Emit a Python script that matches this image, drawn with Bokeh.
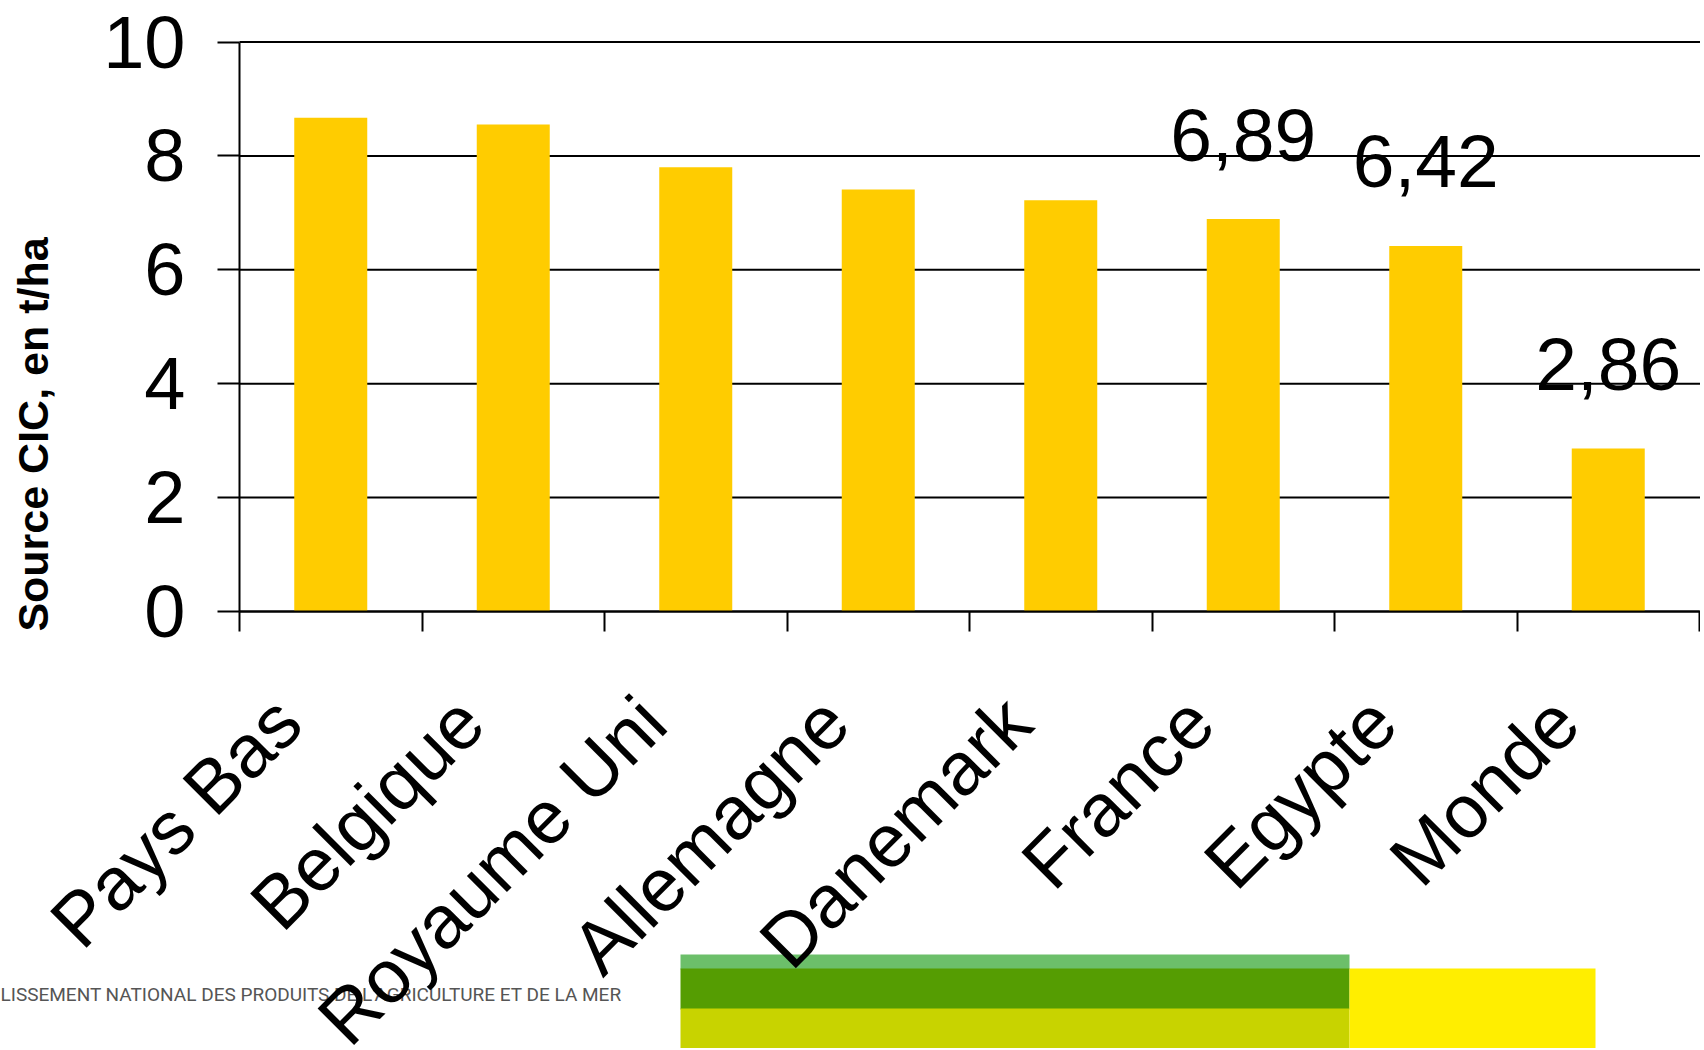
import math
from bokeh.plotting import figure
from bokeh.models import (Range1d, FixedTicker, LinearAxis, LabelSet, Label,
                          BoxAnnotation, ColumnDataSource, CustomJSTickFormatter)
from bokeh.core.properties import value
from bokeh.embed import file_html
from bokeh.resources import INLINE

# ---- data ----
categories = ["Pays Bas", "Belgique", "Royaume Uni", "Allemagne", "Danemark",
              "France", "Egypte", "Monde"]
yields = [8.67, 8.55, 7.80, 7.41, 7.22, 6.89, 6.42, 2.86]
shown_labels = ["", "", "", "", "", "6,89", "6,42", "2,86"]
y_ticks = [0, 2, 4, 6, 8, 10]
y_title = "Source CIC, en t/ha"
banner_text = "LISSEMENT NATIONAL DES PRODUITS DE L'AGRICULTURE ET DE LA MER"

FONT = "Liberation Sans"
n = len(categories)
centers = [i + 0.5 for i in range(n)]
bounds = [float(i) for i in range(n + 1)]
y_max = y_ticks[-1]

# ---- layout (canvas pixels) ----
W, H = 1700, 1048
X0_PX, X1_PX = 239, 1699      # where the category span starts / ends
Y0_PX, Y1_PX = 611, 41.5      # where value 0 / value y_max lie
ux = (X1_PX - X0_PX) / n
uy = (Y0_PX - Y1_PX) / y_max
x_range = Range1d(-X0_PX / ux, (W - X0_PX) / ux)
y_range = Range1d(-(H - Y0_PX) / uy, y_max + Y1_PX / uy)

p = figure(width=W, height=H, output_backend="svg", toolbar_location=None,
           x_range=x_range, y_range=y_range,
           x_axis_type=None, y_axis_type=None, min_border=0)
p.outline_line_color = None
p.background_fill_color = "white"
p.border_fill_color = "white"
p.xgrid.visible = False
p.ygrid.visible = False

# horizontal grid lines (from the tick list), behind the bars
p.segment(x0=[0] * len(y_ticks), x1=[x_range.end] * len(y_ticks),
          y0=y_ticks, y1=y_ticks, line_color="black", line_width=2,
          level="underlay")

# y axis
yaxis = LinearAxis(ticker=FixedTicker(ticks=y_ticks), fixed_location=0,
                   bounds=(0, y_max))
yaxis.axis_line_color = "black"
yaxis.axis_line_width = 2
yaxis.major_tick_line_color = "black"
yaxis.major_tick_line_width = 2
yaxis.major_tick_out = 22
yaxis.major_tick_in = 0
yaxis.minor_tick_line_color = None
yaxis.major_label_text_font = FONT
yaxis.major_label_text_font_size = "74px"
yaxis.major_label_text_color = "black"
yaxis.major_label_standoff = 32
p.add_layout(yaxis, "left")

# x axis: ticks at category boundaries, no tick labels
xaxis = LinearAxis(ticker=FixedTicker(ticks=bounds), fixed_location=0,
                   bounds=(0, n))
xaxis.axis_line_color = "black"
xaxis.axis_line_width = 2
xaxis.major_tick_line_color = "black"
xaxis.major_tick_line_width = 2
xaxis.major_tick_out = 20
xaxis.major_tick_in = 0
xaxis.minor_tick_line_color = None
xaxis.formatter = CustomJSTickFormatter(code="return ''")
xaxis.major_label_text_font_size = "1px"
xaxis.major_label_standoff = 0
p.add_layout(xaxis, "below")

src = ColumnDataSource(dict(x=centers, top=yields, cat=categories, lab=shown_labels,
                            zero=[0] * n))

p.vbar(x="x", top="top", width=0.4, source=src, fill_color="#FFCC00",
       line_color=None)

p.text(x="x", y="top", text="lab", source=src, y_offset=-84,
       text_align="center", text_baseline="alphabetic",
       text_font=value(FONT), text_font_size="75px", text_color="black")

cat_labels = LabelSet(x="x", y="zero", text="cat", source=src,
                      x_offset=-43, y_offset=-98, angle=math.pi / 4,
                      text_align="right", text_baseline="middle",
                      text_font=value(FONT), text_font_size="75px",
                      text_color="black")
p.add_layout(cat_labels)

# y title
p.add_layout(Label(x=32, y=H - 434, x_units="screen", y_units="screen",
                   text=y_title, angle=math.pi / 2, text_align="center",
                   text_baseline="middle", text_font=FONT,
                   text_font_size="43px", text_font_style="bold",
                   text_color="black"))

# decorative banner at the bottom (screen units: x from left, y from bottom)
for (l, r, t, b, c) in [(680, 1349, 954, 969, "#6cbf6a"),
                        (680, 1349, 968, 1009, "#559d02"),
                        (680, 1349, 1008, 1060, "#c8d300"),
                        (1349, 1595, 968, 1060, "#ffee00")]:
    box = BoxAnnotation(left=l, right=r, top=H - t, bottom=H - b,
                        left_units="screen", right_units="screen",
                        top_units="screen", bottom_units="screen",
                        fill_color=c, fill_alpha=1.0, line_color=None,
                        level="underlay")
    p.add_layout(box)

p.add_layout(Label(x=0, y=H - 994, x_units="screen", y_units="screen",
                   text=banner_text, text_font="Roboto",
                   text_font_size="19px", text_color="#555555",
                   text_baseline="middle", text_align="left", level="underlay"))

open("out.html", "w").write(file_html(p, INLINE))
